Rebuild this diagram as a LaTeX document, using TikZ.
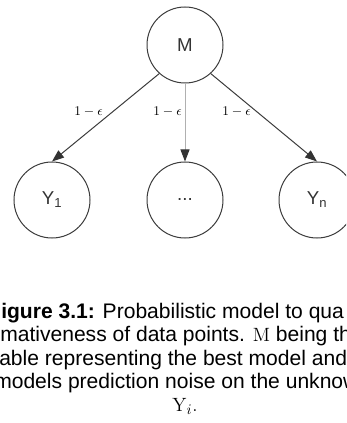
\documentclass[tikz,border=0pt]{standalone}
\usepackage[no-math]{fontspec}
\setmainfont{Liberation Sans}
\usetikzlibrary{arrows.meta}
\definecolor{circ}{HTML}{3C3C3C}
\definecolor{lab}{HTML}{333333}
\definecolor{edge}{HTML}{3C3C3C}
\definecolor{softedge}{HTML}{B0B0B0}
\definecolor{head}{HTML}{333333}
\begin{document}
\begin{tikzpicture}[x=0.75pt,y=-0.75pt,
  var/.style={circle,draw=circ,line width=0.75pt,minimum size=57pt,inner sep=0pt,
    text=lab,font=\fontsize{14}{16}\selectfont},
  link/.style={draw=edge,line width=0.75pt,
    -{Triangle[length=9pt,width=6.75pt,color=head,fill=head]}},
  prob/.style={anchor=base,inner sep=0pt,font=\fontsize{10}{12}\selectfont},
  capline/.style={anchor=base west,inner sep=0pt,font=\fontsize{15.8}{18}\selectfont}]
\useasboundingbox (0,0) rectangle (346,423);
\clip (0,0) rectangle (346,423);

% model variable and observed outputs
\node[var] (M)  at (185,45)  {M};
\node[var] (Y1) at (52,200)  {Y\textsubscript{1}};
\node[var] (D)  at (185,200) {...};
\node[var] (Yn) at (317,200) {Y\textsubscript{n}};

% dependencies
\draw[link] (M.228) -- (Y1.north);
\draw[link,draw=softedge] (M.south) -- (D.north);
\draw[link] (M.312) -- (Yn.north);

% edge probabilities
\node[prob] (p1) at (88.5,116)  {$1-\epsilon$};
\node[prob] (p2) at (167.5,116) {$1-\epsilon$};
\node[prob] (p3) at (236.5,116) {$1-\epsilon$};

% caption
\node[capline] (c1) at (1,318.3)   {\textbf{igure 3.1:} Probabilistic model to qua};
\node[capline] (c2) at (0,341.6)   {mativeness of data points. $\mathrm{M}$ being th};
\node[capline] (c3) at (-1,365)    {able representing the best model and};
\node[capline] (c4) at (-6,388.3)  {models prediction noise on the unknow};
\node[anchor=base,inner sep=0pt,font=\fontsize{15.8}{18}\selectfont] (c5) at (185,411.6) {$\mathrm{Y}_i.$};
\end{tikzpicture}
\end{document}
